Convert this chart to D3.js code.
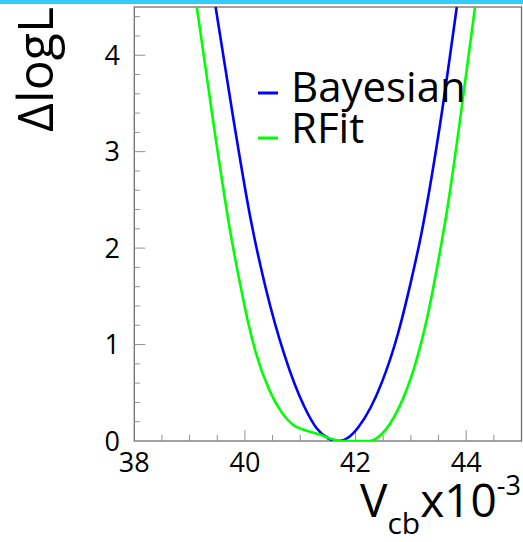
<!DOCTYPE html>
<html>
<head>
<meta charset="utf-8">
<script src="https://cdn.jsdelivr.net/npm/d3@7"></script>
<style>
  html, body { margin: 0; padding: 0; background: #fff; }
  svg { display: block; }
  text { font-family: "Open Sans", "Noto Sans", sans-serif; fill: #000; }
</style>
</head>
<body>
<script>
// Profile likelihood scans of Vcb (x10^-3): value, ΔlogL
const bayesianV  = [39.47, 39.78, 40.11, 40.37, 40.71, 41.07, 41.30, 41.50, 41.68, 41.90, 42.06, 42.47, 42.77, 43.00, 43.19, 43.50, 43.83];
const bayesianDL = [4.50, 3.38, 2.28, 1.60, 0.90, 0.36, 0.13, 0.03, 0.00, 0.05, 0.15, 0.60, 1.12, 1.65, 2.15, 3.18, 4.50];

const rfitV  = [39.13, 39.45, 39.75, 39.93, 40.05, 40.19, 40.44, 40.65, 40.89, 41.05, 41.34, 41.57, 41.75, 42.00, 42.25, 42.47, 42.77, 43.07, 43.31, 43.49, 43.67, 43.87, 44.16];
const rfitDL = [4.50, 3.22, 2.12, 1.58, 1.25, 0.93, 0.53, 0.31, 0.16, 0.12, 0.07, 0.02, 0.00, 0.00, 0.00, 0.07, 0.33, 0.78, 1.32, 1.85, 2.45, 3.25, 4.50];

const seriesNames  = ["Bayesian", "RFit"];
const seriesColors = ["#0000ff", "#00ff00"];

const xTickLabels = [38, 40, 42, 44];
const yTickLabels = [0, 1, 2, 3, 4];

const W = 523, H = 542;
const frame = { left: 134.3, right: 521.5, top: 7, bottom: 441 };

const svg = d3.select("body").append("svg").attr("width", W).attr("height", H);

// top accent bar
svg.append("rect").attr("x", 0).attr("y", 0).attr("width", W).attr("height", 4).attr("fill", "#33ccff");

const x = d3.scaleLinear().domain([38, 45]).range([frame.left, frame.right]);
const y = d3.scaleLinear().domain([0, 4.5]).range([frame.bottom, frame.top]);

// clip for curves
svg.append("clipPath").attr("id", "plotclip").append("rect")
  .attr("x", frame.left).attr("y", frame.top)
  .attr("width", frame.right - frame.left).attr("height", frame.bottom - frame.top);

// frame box
svg.append("rect")
  .attr("x", frame.left).attr("y", frame.top)
  .attr("width", frame.right - frame.left).attr("height", frame.bottom - frame.top)
  .attr("fill", "none").attr("stroke", "#707070").attr("stroke-width", 1.3);

// x ticks (inside, major every 2, minor every 0.5)
const xMinor = d3.range(38.5, 45, 0.5);
svg.append("g").selectAll("line").data(xMinor).join("line")
  .attr("x1", d => x(d)).attr("x2", d => x(d))
  .attr("y1", frame.bottom)
  .attr("y2", d => frame.bottom - (Math.abs(d % 2) < 1e-6 ? 11 : 6))
  .attr("stroke", "#909090").attr("stroke-width", 1);

// y ticks (inside, major every 1, minor every 0.2)
const yMinor = d3.range(1, 23).map(i => i * 0.2);
svg.append("g").selectAll("line").data(yMinor).join("line")
  .attr("y1", d => y(d)).attr("y2", d => y(d))
  .attr("x1", frame.left)
  .attr("x2", d => frame.left + (Math.abs(d - Math.round(d)) < 1e-6 ? 11 : 5.5))
  .attr("stroke", "#909090").attr("stroke-width", 1);

// tick labels
svg.append("g").selectAll("text").data(xTickLabels).join("text")
  .attr("x", d => x(d)).attr("y", 472)
  .attr("text-anchor", "middle").attr("font-size", 27)
  .text(d => d);

svg.append("g").selectAll("text").data(yTickLabels).join("text")
  .attr("x", 120).attr("y", d => y(d))
  .attr("dy", "0.36em")
  .attr("text-anchor", "end").attr("font-size", 27)
  .text(d => d);

// axis titles
svg.append("text")
  .attr("transform", `translate(53,7) rotate(-90)`)
  .attr("text-anchor", "end").attr("font-size", 50)
  .text("ΔlogL");

const xt = svg.append("text")
  .attr("x", 521).attr("y", 517)
  .attr("text-anchor", "end").attr("font-size", 46);
xt.append("tspan").text("V");
xt.append("tspan").attr("font-size", 30).attr("dy", 17).text("cb");
xt.append("tspan").attr("dy", -17).text("x10");
xt.append("tspan").attr("font-size", 27).attr("dy", -22).text("-3");

// curves
const line = d3.line().x(d => x(d[0])).y(d => y(d[1])).curve(d3.curveMonotoneX);
const series = [
  d3.zip(bayesianV, bayesianDL),
  d3.zip(rfitV, rfitDL)
];
svg.append("g").attr("clip-path", "url(#plotclip)")
  .selectAll("path").data(series).join("path")
  .attr("d", line)
  .attr("fill", "none")
  .attr("stroke", (d, i) => seriesColors[i])
  .attr("stroke-width", 2.6);

// legend
const legend = svg.append("g");
const legY = [93, 138];
const legBase = [102, 143];
seriesNames.forEach((name, i) => {
  legend.append("line")
    .attr("x1", 258).attr("x2", 278)
    .attr("y1", legY[i]).attr("y2", legY[i])
    .attr("stroke", seriesColors[i]).attr("stroke-width", 3);
  legend.append("text")
    .attr("x", 291).attr("y", legBase[i])
    .attr("font-size", 42)
    .text(name);
});
</script>
</body>
</html>
